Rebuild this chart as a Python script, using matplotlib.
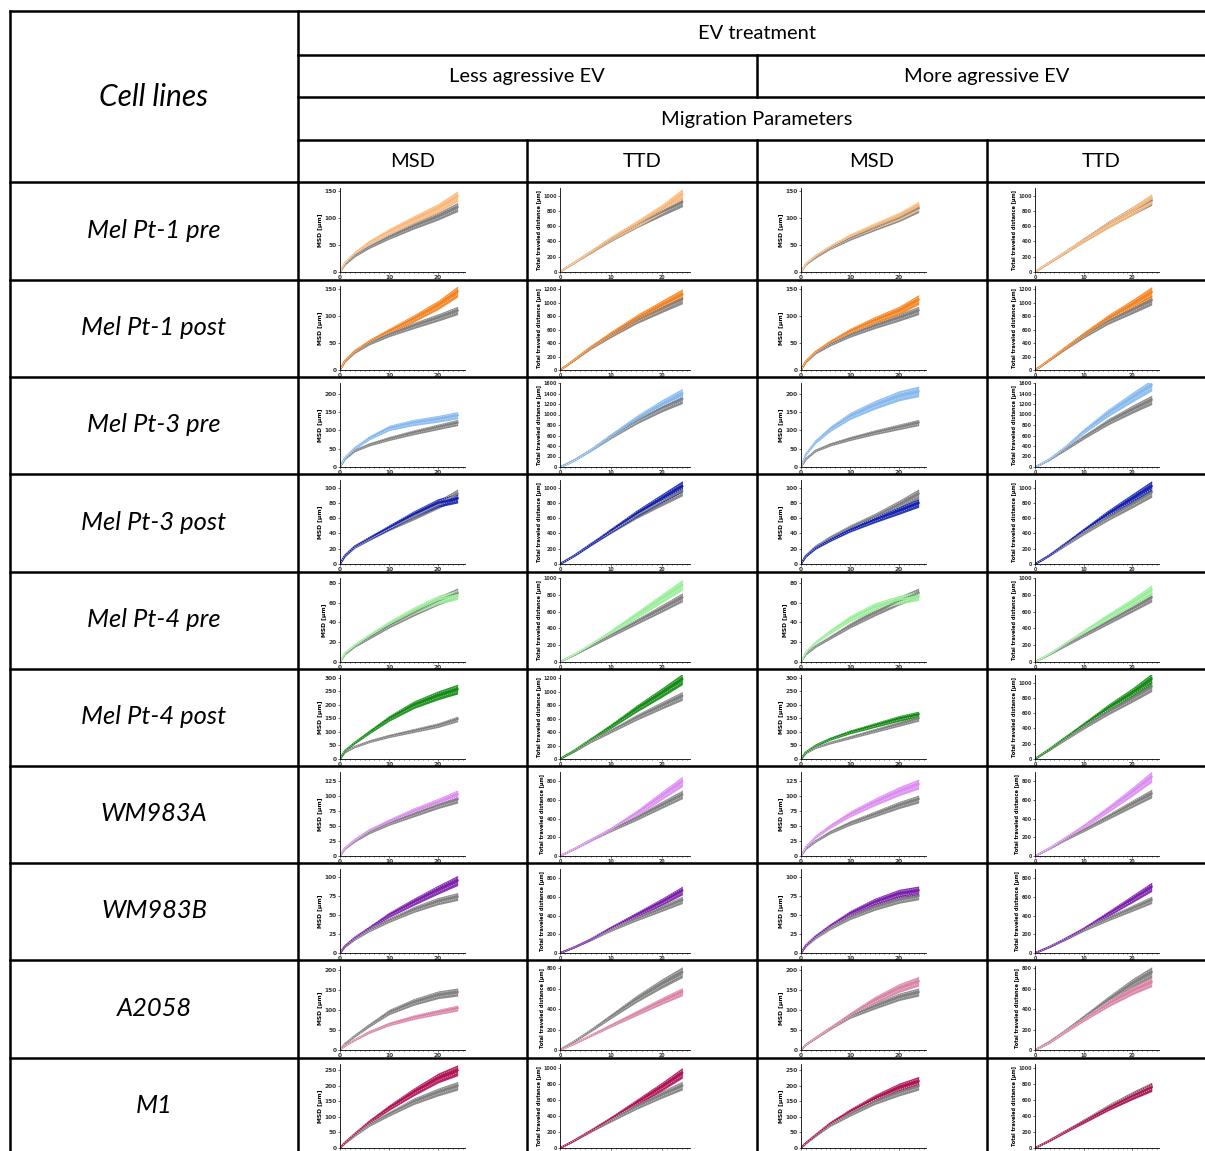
import matplotlib.pyplot as plt
import numpy as np
from matplotlib.ticker import MultipleLocator

plt.rcParams['font.family'] = ['Lato', 'DejaVu Sans']

# ---- data ----
cell_lines = ['Mel Pt-1 pre', 'Mel Pt-1 post', 'Mel Pt-3 pre', 'Mel Pt-3 post',
              'Mel Pt-4 pre', 'Mel Pt-4 post', 'WM983A', 'WM983B', 'A2058', 'M1']
ev_colors = ['#F9B778', '#F5821F', '#85B8EE', '#1422B0', '#98EE98',
             '#138A14', '#DC8CF0', '#7A1FAA', '#D982A6', '#AE1252']
grey = '#808080'

t_points = [0, 1, 3, 6, 10, 15, 20, 24]  # time [h]

# MSD [um], less aggressive EV
msd_less_ctrl = [
    [0, 14, 30, 47, 65, 85, 103, 120],
    [0, 16, 33, 50, 66, 82, 97, 110],
    [0, 22, 45, 62, 78, 95, 110, 122],
    [0, 10, 22, 33, 47, 62, 78, 92],
    [0, 8, 16, 25, 37, 50, 62, 70],
    [0, 25, 45, 65, 85, 105, 125, 148],
    [0, 12, 25, 40, 55, 70, 85, 95],
    [0, 8, 18, 30, 43, 57, 68, 74],
    [0, 15, 35, 62, 95, 120, 138, 145],
    [0, 15, 40, 75, 110, 150, 180, 200],
]
msd_less_ev = [
    [0, 17, 35, 55, 75, 97, 118, 140],
    [0, 17, 35, 53, 72, 95, 120, 145],
    [0, 25, 52, 80, 107, 122, 132, 142],
    [0, 11, 23, 34, 48, 65, 80, 86],
    [0, 9, 17, 27, 39, 52, 63, 68],
    [0, 30, 60, 100, 150, 200, 235, 258],
    [0, 13, 27, 43, 58, 75, 90, 103],
    [0, 9, 20, 33, 50, 67, 83, 95],
    [0, 10, 25, 45, 65, 82, 95, 105],
    [0, 17, 45, 85, 130, 180, 225, 250],
]
# total traveled distance [um], less aggressive EV
ttd_less_ctrl = [
    [0, 45, 130, 260, 430, 620, 790, 920],
    [0, 50, 160, 330, 520, 740, 920, 1060],
    [0, 40, 140, 320, 580, 880, 1130, 1300],
    [0, 40, 120, 260, 430, 640, 820, 960],
    [0, 30, 90, 190, 320, 480, 640, 770],
    [0, 40, 120, 260, 420, 620, 800, 940],
    [0, 25, 80, 170, 280, 410, 550, 660],
    [0, 20, 65, 140, 250, 370, 480, 570],
    [0, 30, 90, 190, 330, 500, 650, 760],
    [0, 30, 100, 210, 350, 520, 670, 780],
]
ttd_less_ev = [
    [0, 45, 130, 265, 440, 630, 830, 1020],
    [0, 50, 165, 340, 540, 770, 970, 1130],
    [0, 35, 130, 320, 600, 920, 1200, 1400],
    [0, 35, 115, 255, 440, 660, 860, 1020],
    [0, 30, 95, 205, 360, 560, 760, 920],
    [0, 45, 135, 290, 490, 750, 990, 1190],
    [0, 25, 80, 170, 290, 460, 650, 800],
    [0, 20, 65, 145, 270, 410, 550, 670],
    [0, 20, 65, 140, 240, 360, 480, 570],
    [0, 30, 100, 215, 370, 570, 770, 940],
]
# MSD [um], more aggressive EV
msd_more_ctrl = [
    [0, 14, 28, 45, 63, 82, 100, 118],
    [0, 15, 32, 48, 65, 82, 97, 110],
    [0, 22, 45, 62, 78, 95, 110, 122],
    [0, 11, 23, 35, 48, 62, 78, 92],
    [0, 8, 16, 25, 37, 50, 62, 70],
    [0, 22, 42, 60, 80, 105, 130, 150],
    [0, 12, 25, 40, 55, 70, 85, 95],
    [0, 9, 20, 33, 47, 60, 70, 75],
    [0, 13, 30, 55, 85, 110, 133, 145],
    [0, 15, 40, 75, 110, 150, 180, 200],
]
msd_more_ev = [
    [0, 15, 30, 47, 66, 85, 103, 122],
    [0, 16, 34, 52, 72, 92, 110, 130],
    [0, 35, 70, 105, 140, 170, 195, 207],
    [0, 10, 21, 32, 45, 58, 70, 80],
    [0, 10, 20, 31, 44, 56, 63, 67],
    [0, 25, 50, 75, 100, 125, 150, 165],
    [0, 15, 32, 50, 70, 90, 108, 120],
    [0, 10, 22, 36, 52, 67, 78, 82],
    [0, 13, 30, 55, 88, 125, 155, 172],
    [0, 16, 42, 80, 118, 160, 195, 215],
]
# total traveled distance [um], more aggressive EV
ttd_more_ctrl = [
    [0, 40, 125, 250, 420, 620, 800, 940],
    [0, 45, 150, 310, 510, 730, 900, 1040],
    [0, 40, 140, 320, 570, 860, 1100, 1280],
    [0, 35, 110, 240, 410, 610, 790, 940],
    [0, 30, 90, 190, 320, 480, 640, 770],
    [0, 40, 120, 250, 420, 620, 800, 950],
    [0, 25, 80, 170, 280, 420, 560, 670],
    [0, 20, 65, 140, 250, 370, 480, 570],
    [0, 25, 80, 180, 320, 490, 650, 760],
    [0, 30, 95, 200, 340, 510, 660, 770],
]
ttd_more_ev = [
    [0, 40, 125, 250, 415, 615, 800, 960],
    [0, 45, 155, 320, 530, 770, 980, 1160],
    [0, 40, 150, 360, 680, 1030, 1330, 1560],
    [0, 35, 115, 255, 440, 660, 860, 1020],
    [0, 30, 95, 210, 360, 540, 710, 860],
    [0, 42, 130, 270, 450, 670, 870, 1050],
    [0, 26, 85, 185, 320, 500, 690, 850],
    [0, 20, 65, 145, 260, 420, 580, 710],
    [0, 20, 70, 170, 300, 450, 580, 665],
    [0, 28, 90, 195, 330, 500, 650, 760],
]

# y-axis top and tick step per row, for MSD and TTD panels
msd_ymax = [155, 155, 230, 110, 85, 310, 140, 110, 210, 270]
msd_step = [50, 50, 50, 20, 20, 50, 25, 25, 50, 50]
ttd_less_ymax = [1100, 1250, 1600, 1100, 1000, 1250, 900, 900, 820, 1050]
ttd_more_ymax = [1100, 1250, 1600, 1100, 1000, 1100, 900, 900, 820, 1050]

# ---- layout (pixels) ----
W, H = 1205, 1151
col_x = [298, 527, 757, 987, 1216]
row_y = [182, 280, 377, 474, 572, 669, 766, 863, 960, 1058, 1155]
ax_left = [42, 33, 44, 48]
ax_width = [125, 130, 125, 124]
BAND = 0.07

fig = plt.figure(figsize=(W / 100, H / 100), dpi=100)

panels = [
    (msd_less_ctrl, msd_less_ev, 'MSD [µm]', msd_ymax, msd_step),
    (ttd_less_ctrl, ttd_less_ev, 'Total traveled distance [µm]', ttd_less_ymax, None),
    (msd_more_ctrl, msd_more_ev, 'MSD [µm]', msd_ymax, msd_step),
    (ttd_more_ctrl, ttd_more_ev, 'Total traveled distance [µm]', ttd_more_ymax, None),
]

t = np.array(t_points)
last = len(cell_lines) - 1
for i in range(len(cell_lines)):
    top = row_y[i]
    for j, (ctrl, ev, ylab, ymax, step) in enumerate(panels):
        is_ttd = step is None
        x0 = col_x[j] + ax_left[j]
        ax = fig.add_axes([x0 / W, 1 - (top + 90) / H, ax_width[j] / W, 84 / H])
        for vals, c in ((ctrl[i], grey), (ev[i], ev_colors[i])):
            y = np.array(vals, dtype=float)
            ax.fill_between(t, y * (1 - BAND), y * (1 + BAND), color=c, lw=0, alpha=0.9)
            ax.plot(t, y, color=c, lw=1.4)
            ax.plot(t, y * (1 + BAND / 2), color='white', lw=0.4, ls=(0, (2, 2)), alpha=0.7)
            ax.plot(t, y * (1 - BAND / 2), color='white', lw=0.4, ls=(0, (2, 2)), alpha=0.7)
        ax.set_xlim(0, 25.5)
        ax.set_ylim(0, ymax[i])
        ax.xaxis.set_major_locator(MultipleLocator(10))
        ax.xaxis.set_minor_locator(MultipleLocator(1))
        ax.yaxis.set_major_locator(MultipleLocator(200 if is_ttd else step[i]))
        for s in ('top', 'right'):
            ax.spines[s].set_visible(False)
        for s in ('left', 'bottom'):
            ax.spines[s].set_linewidth(0.6)
        ax.tick_params(labelsize=3.4 if is_ttd else 4.2, length=1.5, width=0.5,
                       pad=0.8, colors='#333333')
        ax.tick_params(which='minor', length=1.0, width=0.4)
        if i == last:
            ax.tick_params(labelbottom=False)
        ax.set_ylabel(ylab, fontsize=3.6 if is_ttd else 4.3, fontweight='bold',
                      labelpad=1.0, family=['DejaVu Sans'])
        for lab in ax.get_xticklabels() + ax.get_yticklabels():
            lab.set_fontweight('bold')
            lab.set_family(['DejaVu Sans'])
        ax.patch.set_alpha(0)

# ---- table overlay ----
ov = fig.add_axes([0, 0, 1, 1], zorder=10)
ov.set_xlim(0, W)
ov.set_ylim(H, 0)
ov.axis('off')
ov.patch.set_alpha(0)

lw = 1.8
def hline(y, x0, x1=W):
    ov.plot([x0, x1], [y, y], color='black', lw=lw, solid_capstyle='projecting')

def vline(x, y0, y1=H):
    ov.plot([x, x], [y0, y1], color='black', lw=lw, solid_capstyle='projecting')

hline(11, 10)
for y in (55, 97, 140):
    hline(y, 298)
for y in row_y[:-1]:
    hline(y, 10)
vline(10, 11)
vline(298, 11)
vline(757, 55, 97)
vline(757, 140)
vline(527, 140)
vline(987, 140)

hsize = 14.5
ov.text(154, 97, 'Cell lines', fontsize=21.5, style='italic', ha='center', va='center')
ov.text(757, 33, 'EV treatment', fontsize=hsize, ha='center', va='center')
ov.text(527, 76, 'Less agressive EV', fontsize=hsize, ha='center', va='center')
ov.text(987, 76, 'More agressive EV', fontsize=hsize, ha='center', va='center')
ov.text(757, 119, 'Migration Parameters', fontsize=hsize, ha='center', va='center')
for k, name in enumerate(['MSD', 'TTD', 'MSD', 'TTD']):
    ov.text((col_x[k] + col_x[k + 1]) / 2, 161, name, fontsize=hsize, ha='center', va='center')
for i, name in enumerate(cell_lines):
    ov.text(154, (row_y[i] + row_y[i + 1]) / 2 - 1, name, fontsize=18.4, style='italic',
            ha='center', va='center')

fig.savefig('out.png', dpi=100)
